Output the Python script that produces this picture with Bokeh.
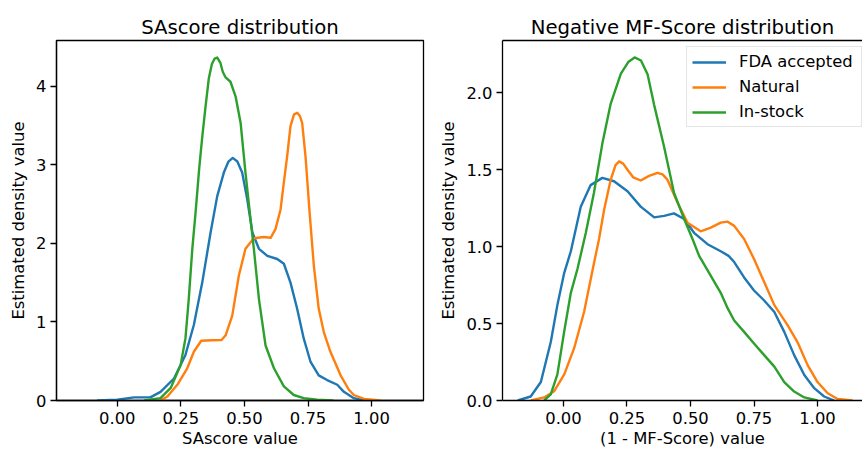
from bokeh.plotting import figure
from bokeh.layouts import row
from bokeh.models import Range1d, FixedTicker, NumeralTickFormatter, Legend, LegendItem, LinearAxis
from bokeh.embed import file_html
from bokeh.resources import INLINE

# ---------------- data ----------------
series_names = ["FDA accepted", "Natural", "In-stock"]
series_colors = ["#1f77b4", "#ff7f0e", "#2ca02c"]

# SAscore distribution
sa_fda_x = [-0.079, 0.0, 0.066, 0.13, 0.17, 0.223, 0.268, 0.301, 0.334, 0.367, 0.393, 0.419, 0.437, 0.454,
            0.472, 0.491, 0.511, 0.531, 0.557, 0.59, 0.629, 0.655, 0.681, 0.707, 0.733, 0.76, 0.792, 0.825,
            0.865, 0.891, 0.93, 0.97]
sa_fda_y = [0.0, 0.01, 0.04, 0.04, 0.11, 0.28, 0.58, 0.96, 1.50, 2.14, 2.60, 2.90, 3.04, 3.086,
            3.04, 2.90, 2.56, 2.14, 1.93, 1.84, 1.80, 1.74, 1.50, 1.17, 0.79, 0.49, 0.32, 0.26,
            0.20, 0.11, 0.03, 0.0]

sa_nat_x = [0.17, 0.197, 0.236, 0.275, 0.301, 0.33, 0.37, 0.41, 0.426, 0.452, 0.478, 0.504, 0.537, 0.576,
            0.603, 0.622, 0.642, 0.652, 0.668, 0.681, 0.695, 0.7075, 0.718, 0.727, 0.74, 0.756, 0.773,
            0.792, 0.812, 0.838, 0.878, 0.91, 0.93, 0.97, 1.035]
sa_nat_y = [0.0, 0.05, 0.20, 0.41, 0.62, 0.76, 0.767, 0.77, 0.83, 1.08, 1.59, 1.93, 2.065, 2.08,
            2.07, 2.18, 2.43, 2.70, 3.11, 3.49, 3.64, 3.66, 3.62, 3.53, 3.11, 2.40, 1.71,
            1.17, 0.87, 0.62, 0.32, 0.14, 0.07, 0.02, 0.0]

sa_stock_x = [0.105, 0.17, 0.21, 0.249, 0.268, 0.281, 0.295, 0.308, 0.322, 0.334, 0.347, 0.36, 0.372, 0.383,
              0.393, 0.405, 0.415, 0.426, 0.445, 0.465, 0.485, 0.504, 0.519, 0.537, 0.557, 0.583, 0.616,
              0.655, 0.694, 0.733, 0.786, 0.85]
sa_stock_y = [0.0, 0.03, 0.16, 0.45, 0.79, 1.29, 1.93, 2.40, 2.95, 3.35, 3.74, 4.10, 4.28, 4.35,
              4.363, 4.30, 4.18, 4.11, 4.055, 3.87, 3.53, 2.90, 2.45, 1.93, 1.29, 0.70, 0.41,
              0.18, 0.07, 0.03, 0.01, 0.0]

# Negative MF-Score distribution
mf_fda_x = [-0.18, -0.129, -0.089, -0.05, -0.024, 0.003, 0.029, 0.068, 0.107, 0.153, 0.199, 0.252, 0.304,
            0.357, 0.396, 0.435, 0.475, 0.514, 0.567, 0.619, 0.65, 0.672, 0.711, 0.75, 0.79, 0.83,
            0.869, 0.908, 0.948, 0.987, 1.026, 1.066]
mf_fda_y = [0.0, 0.026, 0.12, 0.38, 0.62, 0.83, 0.97, 1.26, 1.40, 1.447, 1.425, 1.36, 1.26,
            1.19, 1.20, 1.216, 1.18, 1.09, 1.016, 0.97, 0.94, 0.90, 0.80, 0.715, 0.65, 0.575,
            0.446, 0.295, 0.166, 0.08, 0.026, 0.0]

mf_nat_x = [-0.129, -0.076, -0.037, 0.003, 0.042, 0.081, 0.121, 0.14, 0.16, 0.186, 0.205, 0.219, 0.235,
            0.252, 0.275, 0.304, 0.337, 0.37, 0.39, 0.409, 0.449, 0.488, 0.54, 0.58, 0.619, 0.645,
            0.672, 0.711, 0.75, 0.79, 0.83, 0.882, 0.921, 0.961, 1.0, 1.04, 1.079, 1.138]
mf_nat_y = [0.0, 0.02, 0.06, 0.17, 0.34, 0.575, 0.90, 1.05, 1.24, 1.436, 1.53, 1.554, 1.54,
            1.50, 1.45, 1.43, 1.46, 1.48, 1.47, 1.436, 1.285, 1.156, 1.10, 1.124, 1.156, 1.163,
            1.135, 1.05, 0.92, 0.77, 0.62, 0.49, 0.38, 0.23, 0.12, 0.047, 0.01, 0.0]

mf_stock_x = [-0.076, -0.05, -0.024, 0.003, 0.029, 0.055, 0.088, 0.12, 0.153, 0.186, 0.226, 0.255, 0.28,
              0.305, 0.331, 0.357, 0.396, 0.435, 0.475, 0.508, 0.534, 0.58, 0.619, 0.646, 0.672, 0.711,
              0.75, 0.79, 0.83, 0.869, 0.908, 0.948, 1.0]
mf_stock_y = [0.0, 0.04, 0.17, 0.45, 0.70, 0.855, 1.09, 1.35, 1.67, 1.93, 2.125, 2.20, 2.23,
              2.21, 2.12, 1.92, 1.65, 1.35, 1.18, 1.05, 0.94, 0.81, 0.70, 0.60, 0.52, 0.446,
              0.37, 0.295, 0.22, 0.12, 0.058, 0.02, 0.0]

x_ticks = [0.0, 0.25, 0.5, 0.75, 1.0]
sa_y_ticks = [0, 1, 2, 3, 4]
mf_y_ticks = [0.0, 0.5, 1.0, 1.5, 2.0]

TICK_FONT = "16.4px"
FONT = "DejaVu Sans"
BLACK = "#000000"


def style(p, xlabel, ylabel, yfmt, yticks):
    p.title.text_font = FONT
    p.title.text_font_size = "19.7px"
    p.title.text_font_style = "normal"
    p.title.align = "center"
    p.title.text_color = BLACK
    p.title.standoff = 4
    p.xgrid.visible = False
    p.ygrid.visible = False
    p.outline_line_color = BLACK
    p.outline_line_width = 1.3
    p.outline_line_alpha = 1.0
    for ax in (p.xaxis[0], p.yaxis[0]):
        ax.major_label_text_font = FONT
        ax.major_label_text_font_size = TICK_FONT
        ax.major_label_text_color = BLACK
        ax.axis_label_text_font = FONT
        ax.axis_label_text_font_size = TICK_FONT
        ax.axis_label_text_font_style = "normal"
        ax.axis_label_text_color = BLACK
        ax.axis_line_color = BLACK
        ax.axis_line_width = 1.3
        ax.major_tick_line_color = BLACK
        ax.major_tick_line_width = 1.3
        ax.major_tick_out = 6
        ax.major_tick_in = 0
        ax.minor_tick_line_color = None
    p.xaxis[0].ticker = FixedTicker(ticks=x_ticks)
    p.xaxis[0].formatter = NumeralTickFormatter(format="0.00")
    p.xaxis[0].axis_label = xlabel
    p.xaxis[0].major_label_standoff = 5
    p.xaxis[0].axis_label_standoff = 2
    p.yaxis[0].ticker = FixedTicker(ticks=yticks)
    p.yaxis[0].formatter = NumeralTickFormatter(format=yfmt)
    p.yaxis[0].axis_label = ylabel
    p.yaxis[0].major_label_standoff = 4
    p.yaxis[0].axis_label_standoff = 5


H = 450
p1 = figure(width=431, height=H, output_backend="svg", toolbar_location=None,
            title="SAscore distribution",
            x_range=Range1d(-0.239, 1.204), y_range=Range1d(0, 4.58),
            min_border_left=56, min_border_right=8, min_border_top=40, min_border_bottom=0)
style(p1, "SAscore value", "Estimated density value", "0", sa_y_ticks)
for xs, ys, c in zip([sa_fda_x, sa_nat_x, sa_stock_x], [sa_fda_y, sa_nat_y, sa_stock_y], series_colors):
    p1.line(xs, ys, line_color=c, line_width=2.4, line_join="round")

p2 = figure(width=431, height=H, output_backend="svg", toolbar_location=None,
            title="Negative MF-Score distribution",
            x_range=Range1d(-0.24, 1.177), y_range=Range1d(0, 2.34),
            min_border_left=71, min_border_right=0, min_border_top=40, min_border_bottom=0)
style(p2, "(1 - MF-Score) value", "Estimated density value", "0.0", mf_y_ticks)
p2.outline_line_color = None
top_axis = LinearAxis(ticker=FixedTicker(ticks=[]), axis_line_color=BLACK, axis_line_width=1.3,
                      major_tick_out=0, major_tick_in=0, minor_tick_out=0, minor_tick_in=0,
                      major_label_standoff=0, major_tick_line_color=None, minor_tick_line_color=None)
p2.add_layout(top_axis, "above")
renderers = []
for xs, ys, c in zip([mf_fda_x, mf_nat_x, mf_stock_x], [mf_fda_y, mf_nat_y, mf_stock_y], series_colors):
    renderers.append(p2.line(xs, ys, line_color=c, line_width=2.4, line_join="round"))

legend = Legend(items=[LegendItem(label=n, renderers=[r]) for n, r in zip(series_names, renderers)],
                location=(184, 273))
legend.label_text_font = FONT
legend.label_text_font_size = TICK_FONT
legend.label_text_color = BLACK
legend.glyph_width = 34
legend.glyph_height = 18
legend.label_standoff = 13
legend.label_width = 117
legend.spacing = 6
legend.padding = 5
legend.margin = 0
legend.border_line_color = "#cccccc"
legend.border_line_width = 1
legend.background_fill_alpha = 0.8
p2.add_layout(legend, "center")

layout = row(p1, p2)
open("out.html", "w").write(file_html(layout, INLINE))
